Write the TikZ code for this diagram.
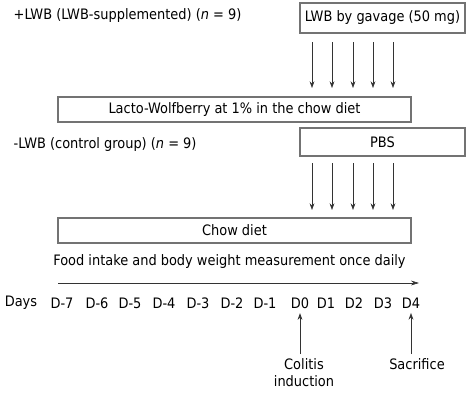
\documentclass[tikz,border=0pt]{standalone}
\usepackage{fontspec}
\setmainfont{DejaVu Sans Condensed}
\usetikzlibrary{arrows.meta, positioning}

\begin{document}
\begin{tikzpicture} [x=0.75pt, y=-0.75pt,
            font=\fontsize{10.8}{13}\selectfont,
            box/.style = {draw=black!55, line width=0.8pt, inner sep=0pt},
            dose/.style = {-{Stealth[length=5pt, width=3.6pt]}, black!80, line width=0.5pt},
            event/.style = {-{Stealth[length=5pt, width=3.6pt]}, black!80, line width=0.5pt}]

            \useasboundingbox (0,0) rectangle (472,396);

            % Group +LWB
            \node (plus) [anchor=west] at (9,16) {+LWB (LWB-supplemented) (\textit{n} = 9)};

            % Gavage box
            \node (gavage) [box,
                minimum width=123.75pt,
                minimum height=22.5pt] at (382.5,18) {LWB by gavage (50 mg)};

            % Lacto-Wolfberry diet
            \node (lacto) [box,
                minimum width=264.75pt,
                minimum height=18.75pt] at (234.5,109.5) {Lacto-Wolfberry at 1\% in the chow diet};

            % Group -LWB
            \node (minus) [anchor=west] at (9,145) {-LWB (control group) (\textit{n} = 9)};

            % PBS box
            \node (pbs) [box,
                minimum width=123.75pt,
                minimum height=21pt] at (382.5,142) {PBS};

            % Chow diet
            \node (chow) [box,
                minimum width=264.75pt,
                minimum height=18.75pt] at (234.5,230.5) {Chow diet};

            % Daily doses
            \foreach \x [count=\i] in {312,332,353,373,393} {
                \coordinate (ga\i) at (\x,42);
                \coordinate (gb\i) at (\x,88);
                \coordinate (pa\i) at (\x,163);
                \coordinate (pb\i) at (\x,210);
                \draw [dose] (ga\i) -- (gb\i);
                \draw [dose] (pa\i) -- (pb\i);
            }

            % Timeline
            \node (food) at (229.5,262) {Food intake and body weight measurement once daily};
            \coordinate (tstart) at (58,283);
            \coordinate (tend) at (419,283);
            \draw [-{Stealth[length=6pt, width=3.6pt]}, black!80, line width=0.5pt] (tstart) -- (tend);

            % Days
            \node (days) at (21,303) {Days};
            \foreach \lab/\x in {D-7/62, D-6/97, D-5/130, D-4/164, D-3/198, D-2/232,
                                D-1/265, D0/300, D1/326, D2/354, D3/383, D4/411}
                \node (\lab) at (\x,303) {\lab};

            % Events
            \node (colitis) [align=center, anchor=north] at (304,354) {Colitis\\induction};
            \node (sacrifice) [anchor=north] at (417,354) {Sacrifice};

            \draw [event] (colitis.north -| D0) -- (D0.south);
            \draw [event] (sacrifice.north -| D4) -- (D4.south);
        \end{tikzpicture}
\end{document}
